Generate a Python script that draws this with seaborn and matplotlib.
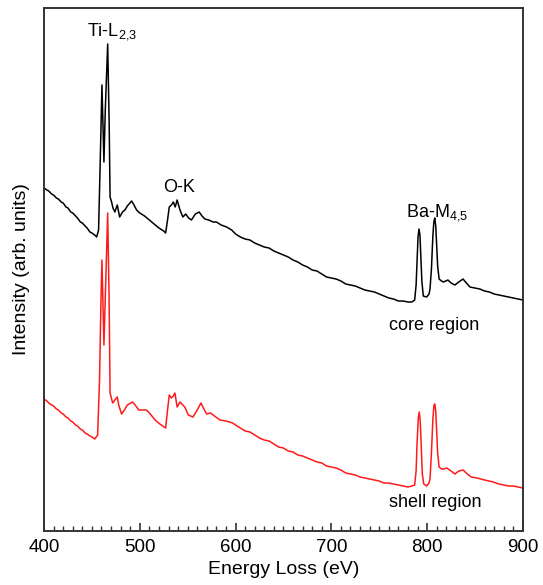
import numpy as np
import pandas as pd
import seaborn as sns
import matplotlib.pyplot as plt
from matplotlib.ticker import MultipleLocator

# core region spectrum (energy loss in eV, intensity arb. units)
core_ev = [400, 403, 405, 408, 410, 413, 415, 418, 420, 423, 425, 428, 430, 433, 435, 438, 440,
           443, 445, 448, 450, 453, 455, 457, 459, 460.5, 461.5,
           462.6, 464, 466.5, 468, 469, 470.6, 472, 474, 476.5, 479, 482, 484.5, 487, 491.5, 494,
           496.7, 500, 505, 510, 515, 520, 525, 527, 529, 530.8, 533, 535, 537, 539, 542, 545,
           548, 551, 554, 558, 562, 565, 568, 572, 576.6, 580, 585, 590.7, 596, 600, 605, 610,
           615, 620, 625, 630, 635, 640, 645, 650, 655, 660, 665, 670, 675, 680, 685, 690, 695,
           700, 705, 710, 715, 720, 725, 730, 735, 740, 745, 750, 755, 760, 765, 770, 775, 780,
           784, 787, 788.5, 789.5, 790.5, 791.5, 792.5, 793.5, 794.5, 796, 799.5, 802, 803, 804.5,
           806, 807, 808, 809, 810, 811, 812.5, 815, 817, 821.7, 825,
           829, 833, 837.5, 841, 844.7, 850, 855, 860, 865, 870, 875, 880, 885, 890, 895, 900]
core_int = [343, 341, 340, 337, 336, 333, 332, 329, 328, 324, 323, 319, 318, 315, 313, 309, 308,
            305, 303, 299, 298, 296, 294, 301, 381, 446, 411,
            369, 421, 487, 411, 334, 329, 323, 319, 326, 314, 319, 321, 325, 330, 326,
            321, 318, 315, 311, 307, 303, 300, 298, 311, 324, 326, 329, 324, 331, 321, 314,
            317, 313, 311, 317, 319, 315, 312, 311, 309, 309, 306, 304, 301, 297, 294, 292,
            291, 288, 286, 284, 283, 280, 278, 276, 274, 271, 269, 266, 264, 261, 260, 257, 254,
            253, 252, 250, 247, 246, 245, 243, 241, 240, 239, 237, 235, 233, 232, 230, 230, 229,
            229, 231, 246, 270, 294, 302, 296, 272, 250, 235, 234, 237, 242, 262,
            295, 309, 313, 305, 285, 265, 252, 250, 249, 251, 248,
            246, 249, 252, 248, 244, 243, 242, 240, 239, 237, 236, 235, 234, 233, 232, 231]

# shell region spectrum
shell_ev = [400, 403, 405, 408, 410, 413, 415, 418, 420, 423, 425, 428, 430, 433, 435, 438, 440,
            443, 445, 448, 450, 453, 456, 458, 459.5, 460.5,
            461.5, 462.6, 464.5, 466.5, 468, 469, 471.7, 474, 476.5, 478, 481, 484, 487, 492.5,
            496, 499, 503, 507, 511, 516, 521, 527, 529, 530.8, 533, 535, 536.7, 539, 542, 547,
            550.7, 555.5, 560, 563.9, 567, 569.8, 574, 578, 583.7, 590, 597, 600, 605, 610, 615,
            620, 625, 630, 635, 640, 645, 650, 655, 660, 665, 670, 675, 680, 685, 690, 695, 700,
            705, 710, 715, 720, 725, 730, 735, 740, 745, 750, 755, 760, 765, 770, 775, 780, 784,
            787, 788.5, 789.5, 790.8, 791.8, 792.8, 793.8, 795, 796.5, 799.5, 802, 803, 804.5,
            806, 807.2, 808, 809, 810, 811, 812.5, 815, 817, 820.5, 825, 829,
            833, 837.5, 842, 846, 852, 860, 869, 875, 880, 885, 890, 895, 900]
shell_int = [132, 130, 128, 126, 125, 122, 121, 118, 117, 114, 113, 110, 109, 106, 105, 102, 101,
             98, 97, 95, 94, 92, 96, 151, 231, 271,
             231, 186, 251, 318, 231, 138, 128, 131, 134, 126, 117, 121, 126, 129,
             125, 121, 121, 121, 117, 111, 107, 103, 121, 136, 133, 135, 138, 124, 129, 124,
             116, 114, 121, 128, 122, 117, 118, 115, 111, 110, 108, 106, 103, 100, 99,
             96, 93, 91, 90, 87, 84, 83, 80, 79, 76, 75, 73, 71, 69, 68, 65, 64,
             63, 61, 58, 57, 56, 54, 53, 52, 51, 50, 48, 48, 47, 46, 45, 44, 45,
             46, 60, 88, 113, 119, 110, 85, 57, 47, 45, 48, 52, 78,
             112, 126, 127, 120, 100, 78, 64, 62, 62, 63, 60, 57,
             60, 61, 57, 54, 53, 51, 49, 47, 46, 45, 45, 44, 43]

core = pd.DataFrame({'energy': core_ev, 'intensity': core_int})
shell = pd.DataFrame({'energy': shell_ev, 'intensity': shell_int})

sns.set_style('ticks')
plt.rcParams['font.family'] = ['Liberation Sans', 'DejaVu Sans']
plt.rcParams['mathtext.default'] = 'regular'
plt.rcParams['text.color'] = 'black'
plt.rcParams['axes.labelcolor'] = 'black'

fig = plt.figure(figsize=(5.43, 5.85), dpi=100)
ax = fig.add_axes([0.081, 0.0923, 0.882, 0.894])

sns.lineplot(data=core, x='energy', y='intensity', color='black', linewidth=1.1, ax=ax)
sns.lineplot(data=shell, x='energy', y='intensity', color='#ff1a1a', linewidth=1.1, ax=ax)

ax.set_xlim(400, 900)
ax.set_ylim(0, 523)
ax.xaxis.set_major_locator(MultipleLocator(100))
ax.xaxis.set_minor_locator(MultipleLocator(10))
ax.tick_params(axis='x', which='major', direction='in', length=6, width=1.2,
               labelsize=13.5, pad=6, colors='#333333', labelcolor='black')
ax.tick_params(axis='x', which='minor', direction='in', length=3.5, width=1, colors='#333333')
ax.set_yticks([])
for s in ax.spines.values():
    s.set_color('#333333')
    s.set_linewidth(1.4)

ax.set_xlabel('Energy Loss (eV)', fontsize=14, labelpad=3)
ax.set_ylabel('Intensity (arb. units)', fontsize=14, labelpad=10)

ax.text(471, 499, 'Ti-L$_{2{,}3}$', fontsize=13, ha='center', va='center')
ax.text(541, 344, 'O-K', fontsize=13, ha='center', va='center')
ax.text(810, 318, 'Ba-M$_{4{,}5}$', fontsize=13, ha='center', va='center')
ax.text(807, 206, 'core region', fontsize=13, ha='center', va='center')
ax.text(808, 29, 'shell region', fontsize=13, ha='center', va='center')

fig.savefig('out.png', dpi=100)
